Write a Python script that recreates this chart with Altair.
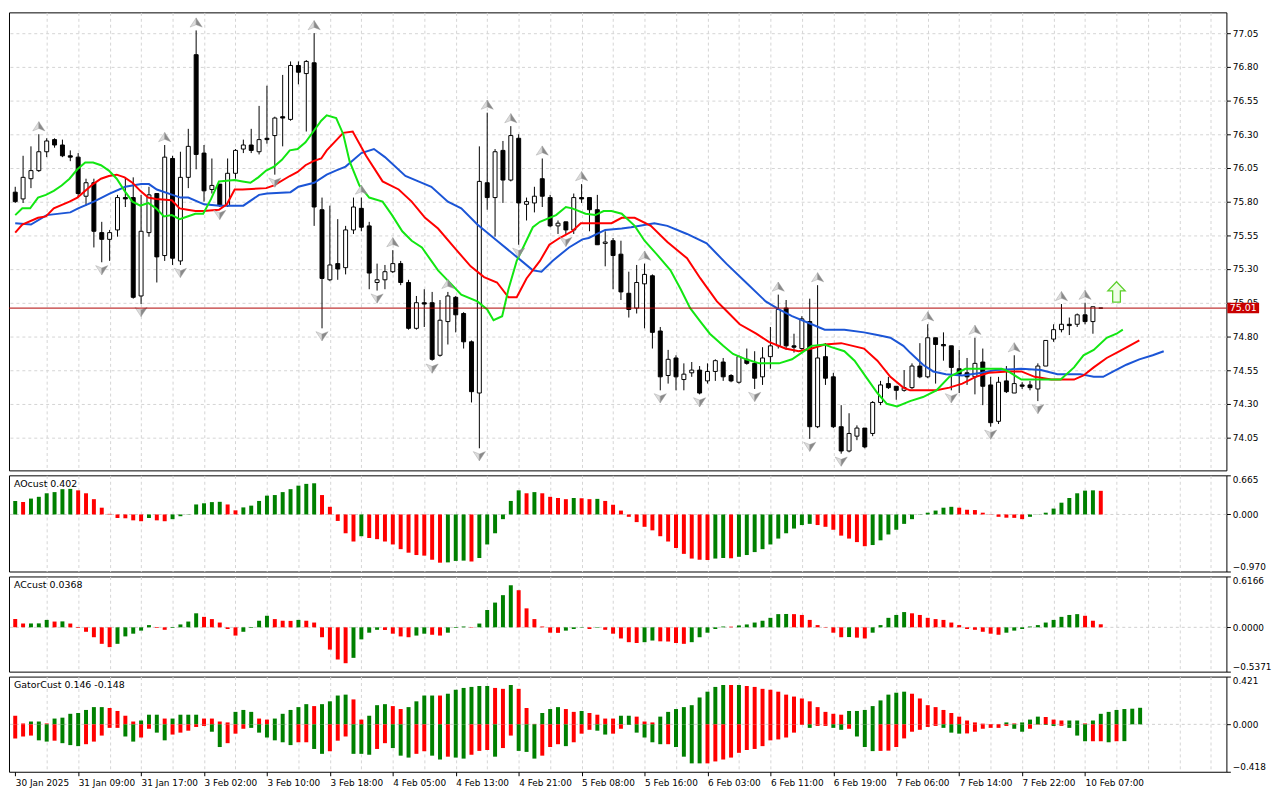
import altair as alt
import pandas as pd
import numpy as np

FONT = "DejaVu Sans"

# ---------------- data ----------------
opens = [75.87, 75.82, 75.97, 76.03, 76.17, 76.26, 76.22, 76.14, 76.13, 75.84,
         75.94, 75.57, 75.52, 75.59, 75.83, 75.83, 75.10, 75.57, 75.86, 75.40,
         76.12, 75.36, 75.98, 76.89, 76.16, 75.89, 75.93, 75.77, 76.01, 76.19,
         76.22, 76.17, 76.27, 76.29, 76.43, 76.41, 76.81, 76.75, 76.83, 75.74,
         75.22, 75.34, 75.31, 75.59, 75.75, 75.62, 75.20, 75.22, 75.28, 75.34,
         75.20, 74.86, 75.05, 75.05, 74.66, 74.91, 75.09, 74.97, 74.76, 74.38,
         75.94, 75.83, 76.18, 75.96, 76.27, 75.78, 75.79, 75.97, 75.83, 75.62,
         75.65, 75.59, 75.83, 75.83, 75.74, 75.49, 75.51, 75.41, 75.12, 75.01,
         75.19, 75.25, 74.84, 74.51, 74.64, 74.48, 74.53, 74.55, 74.47, 74.54,
         74.61, 74.51, 74.46, 74.63, 74.60, 74.50, 74.65, 74.73, 75.01, 74.73,
         74.71, 74.91, 74.13, 74.65, 74.50, 74.13, 73.95, 74.06, 74.12, 74.08,
         74.31, 74.45, 74.43, 74.40, 74.42, 74.58, 74.50, 74.79, 74.74, 74.73,
         74.56, 74.53, 74.50, 74.61, 74.44, 74.17, 74.47, 74.38, 74.44, 74.44,
         74.41, 74.58, 74.78, 74.85, 74.89, 74.89, 74.96, 74.91, 75.01]
highs = [75.91, 76.14, 76.21, 76.30, 76.27, 76.27, 76.26, 76.18, 76.16, 75.97,
         75.97, 75.65, 75.59, 75.85, 75.98, 75.98, 75.85, 75.91, 75.86, 76.22,
         76.14, 76.17, 76.34, 77.07, 76.22, 76.12, 75.93, 76.12, 76.19, 76.26,
         76.34, 76.51, 76.66, 76.43, 76.74, 76.84, 76.84, 76.85, 77.05, 75.83,
         75.77, 75.67, 75.62, 75.83, 75.83, 75.65, 75.34, 75.33, 75.44, 75.36,
         75.22, 75.10, 75.15, 75.13, 75.07, 75.13, 75.10, 74.98, 74.77, 76.21,
         76.46, 76.19, 76.25, 76.36, 76.30, 75.83, 75.91, 76.12, 75.85, 75.66,
         75.65, 75.86, 75.93, 75.83, 75.85, 75.58, 75.53, 75.51, 75.28, 75.33,
         75.34, 75.26, 74.87, 74.70, 74.66, 74.60, 74.61, 74.58, 74.60, 74.63,
         74.64, 74.52, 74.66, 74.71, 74.69, 74.72, 74.87, 75.11, 75.07, 74.82,
         74.95, 75.08, 75.18, 74.75, 74.53, 74.29, 74.23, 74.14, 74.12, 74.32,
         74.47, 74.50, 74.43, 74.55, 74.60, 74.75, 74.89, 74.79, 74.83, 74.73,
         74.70, 74.64, 74.79, 74.71, 74.50, 74.50, 74.58, 74.66, 74.46, 74.47,
         74.60, 74.77, 74.89, 75.04, 74.94, 74.97, 75.05, 75.02, 75.01]
lows = [75.79, 75.79, 75.90, 76.02, 76.13, 76.20, 76.13, 76.10, 75.83, 75.77,
        75.46, 75.35, 75.36, 75.54, 75.76, 75.08, 75.04, 75.54, 75.20, 75.36,
        75.33, 75.33, 75.90, 76.04, 75.80, 75.86, 75.76, 75.76, 75.97, 76.16,
        76.16, 76.15, 76.23, 76.00, 76.21, 76.40, 76.67, 76.32, 75.62, 74.86,
        75.21, 75.22, 75.26, 75.56, 75.58, 75.15, 75.14, 75.15, 75.27, 75.18,
        74.85, 74.85, 74.87, 74.62, 74.65, 74.74, 74.83, 74.71, 74.31, 73.97,
        75.74, 75.54, 75.79, 75.95, 75.48, 75.66, 75.72, 75.76, 75.61, 75.56,
        75.56, 75.56, 75.79, 75.58, 75.48, 75.32, 75.15, 75.07, 74.94, 74.97,
        74.86, 74.71, 74.40, 74.45, 74.40, 74.40, 74.50, 74.37, 74.45, 74.47,
        74.47, 74.46, 74.45, 74.59, 74.41, 74.44, 74.56, 74.71, 74.70, 74.68,
        74.70, 74.04, 74.12, 74.44, 74.12, 73.93, 73.94, 74.03, 73.97, 74.06,
        74.29, 74.41, 74.33, 74.39, 74.41, 74.49, 74.49, 74.45, 74.62, 74.40,
        74.38, 74.44, 74.37, 74.29, 74.13, 74.15, 74.38, 74.38, 74.41, 74.40,
        74.32, 74.58, 74.76, 74.83, 74.81, 74.87, 74.89, 74.82, 75.01]
closes = [75.80, 75.98, 76.03, 76.17, 76.25, 76.22, 76.14, 76.13, 75.86, 75.94,
          75.58, 75.52, 75.57, 75.83, 75.82, 75.09, 75.58, 75.85, 75.39, 76.13,
          75.38, 75.98, 76.21, 76.15, 75.88, 75.92, 75.77, 76.01, 76.18, 76.22,
          76.18, 76.26, 76.26, 76.42, 76.42, 76.81, 76.76, 76.84, 75.76, 75.23,
          75.33, 75.30, 75.59, 75.76, 75.61, 75.27, 75.22, 75.28, 75.34, 75.20,
          74.86, 75.05, 75.04, 74.63, 74.92, 75.10, 74.96, 74.76, 74.39, 75.95,
          75.83, 76.17, 75.96, 76.29, 75.79, 75.80, 75.84, 75.84, 75.62, 75.64,
          75.59, 75.83, 75.82, 75.74, 75.48, 75.50, 75.40, 75.13, 75.00, 75.20,
          75.26, 74.83, 74.50, 74.63, 74.50, 74.52, 74.55, 74.38, 74.54, 74.62,
          74.50, 74.47, 74.65, 74.60, 74.49, 74.64, 74.73, 75.00, 74.73, 74.72,
          74.93, 74.13, 74.64, 74.49, 74.13, 73.95, 74.08, 74.12, 73.98, 74.31,
          74.44, 74.42, 74.40, 74.42, 74.58, 74.50, 74.79, 74.74, 74.73, 74.57,
          74.52, 74.50, 74.60, 74.43, 74.16, 74.46, 74.39, 74.45, 74.43, 74.42,
          74.58, 74.77, 74.85, 74.89, 74.88, 74.96, 74.91, 75.02, 75.01]

fractal_up = [3, 19, 23, 38, 44, 48, 55, 60, 63, 67, 72, 80, 97, 102, 116, 122, 127, 133, 136]
fractal_down = [11, 16, 21, 26, 33, 39, 46, 53, 59, 64, 70, 82, 87, 94, 101, 105, 119, 124, 130]

jaw = [(0, 75.64), (2, 75.63), (4, 75.70), (7, 75.72), (8, 75.75), (10, 75.80), (12, 75.86),
       (14, 75.91), (16, 75.93), (17, 75.93), (18, 75.89), (20, 75.85), (21, 75.83), (22, 75.83),
       (24, 75.78), (26, 75.77), (29, 75.77), (31, 75.85), (32, 75.86), (35, 75.87), (36, 75.91),
       (38, 75.94), (39.6, 76.00), (40.75, 76.03), (42, 76.06), (44, 76.16), (45.6, 76.19),
       (47, 76.13), (49.6, 75.99), (51.25, 75.95), (52.9, 75.91), (55, 75.80), (56.7, 75.75),
       (58.75, 75.63), (61.25, 75.51), (63.75, 75.39), (65.8, 75.29), (66.9, 75.28), (68.3, 75.36),
       (70.4, 75.46), (72.1, 75.52), (72.9, 75.53), (75, 75.59), (77.1, 75.60), (78.3, 75.61),
       (81.25, 75.64), (82.9, 75.62), (85.4, 75.56), (87.9, 75.49), (90.4, 75.34), (92.9, 75.20),
       (95.4, 75.06), (97.1, 75.00), (98.75, 74.95), (101.25, 74.89), (102.9, 74.85), (105.4, 74.85),
       (107.9, 74.83), (109.6, 74.81), (111.25, 74.79), (112.9, 74.73), (113.75, 74.68),
       (115.4, 74.59), (116.7, 74.54), (118.3, 74.52), (120.4, 74.51), (122.9, 74.53),
       (124.6, 74.55), (127.9, 74.56), (130.4, 74.55), (132.5, 74.52), (135.4, 74.52),
       (137.1, 74.50), (138.3, 74.50), (139.6, 74.54), (141.25, 74.59), (142.9, 74.63),
       (144.6, 74.66), (146, 74.69)]
teeth = [(0, 75.57), (0.9, 75.63), (2.9, 75.68), (3.9, 75.69), (4.9, 75.75), (6.9, 75.80),
         (7.9, 75.83), (9.9, 75.93), (10.9, 75.97), (11.9, 75.99), (12.9, 76.00), (13.9, 75.98),
         (14.9, 75.94), (15.9, 75.88), (16.9, 75.83), (17.9, 75.82), (19.9, 75.81), (20.9, 75.75),
         (21.9, 75.74), (22.9, 75.73), (23.9, 75.73), (25.9, 75.74), (26.9, 75.78), (27.9, 75.89),
         (28.9, 75.89), (31.9, 75.90), (32.9, 75.92), (34.9, 75.99), (35.9, 76.02), (36.9, 76.07),
         (37.9, 76.10), (38.9, 76.12), (39.6, 76.18), (41.7, 76.31), (42.9, 76.32), (44.6, 76.14),
         (46.7, 75.95), (48.75, 75.89), (50.4, 75.80), (52.1, 75.68), (53.75, 75.60), (55.8, 75.46),
         (57.9, 75.32), (59.6, 75.24), (61.25, 75.20), (62.7, 75.09), (63.75, 75.09), (65, 75.23),
         (66.7, 75.36), (67.9, 75.48), (69.2, 75.53), (70.8, 75.58), (71.9, 75.64), (75.8, 75.64),
         (77.1, 75.68), (78.75, 75.68), (80.8, 75.62), (82.9, 75.50), (85.4, 75.38), (87.1, 75.23),
         (89.2, 75.06), (90.4, 74.99), (92.1, 74.89), (94.2, 74.82), (95.8, 74.76), (97.9, 74.71),
         (99.6, 74.69), (101.25, 74.71), (102.9, 74.74), (105, 74.75), (107.9, 74.71), (109.6, 74.62),
         (111.25, 74.50), (112.9, 74.42), (113.75, 74.40), (117.1, 74.40), (118.75, 74.42),
         (120.4, 74.45), (122.1, 74.50), (123.75, 74.53), (126.25, 74.54), (127.9, 74.54),
         (129.6, 74.50), (131.7, 74.48), (134.6, 74.48), (135.8, 74.51), (137.1, 74.57),
         (138.75, 74.64), (140.4, 74.69), (142.9, 74.77)]
lips = [(0, 75.70), (0.9, 75.75), (1.9, 75.75), (2.9, 75.83), (3.9, 75.85), (4.9, 75.88),
        (5.9, 75.92), (6.9, 75.97), (7.9, 76.04), (8.9, 76.09), (9.9, 76.09), (10.9, 76.07),
        (11.9, 76.03), (12.9, 75.97), (13.9, 75.88), (14.9, 75.80), (15.9, 75.77), (16.9, 75.79),
        (17.9, 75.75), (18.9, 75.69), (19.9, 75.70), (20.9, 75.67), (21.9, 75.69), (22.9, 75.71),
        (23.9, 75.71), (24.9, 75.82), (25.9, 75.95), (27.9, 75.96), (28.9, 75.95), (29.9, 75.94),
        (30.9, 75.98), (31.9, 76.03), (32.9, 76.06), (33.9, 76.11), (34.9, 76.18), (35.9, 76.19),
        (36.9, 76.24), (37.9, 76.32), (38.9, 76.40), (39.6, 76.44), (40.8, 76.42), (41.7, 76.30),
        (42.5, 76.10), (43.75, 75.92), (45, 75.83), (46.7, 75.80), (47.9, 75.70), (49.2, 75.58),
        (50.4, 75.51), (51.7, 75.46), (52.9, 75.36), (53.75, 75.29), (55.4, 75.19), (56.7, 75.11),
        (58.75, 75.06), (60, 75.00), (60.8, 74.92), (61.9, 74.95), (62.7, 75.15), (63.75, 75.36),
        (65.8, 75.61), (66.7, 75.65), (68.75, 75.70), (70, 75.76), (70.8, 75.75), (72.5, 75.71),
        (73.75, 75.70), (74.8, 75.73), (75.8, 75.73), (77.1, 75.71), (78.75, 75.62), (80, 75.51),
        (81.7, 75.40), (83.3, 75.29), (84.6, 75.15), (85.8, 75.01), (87.1, 74.91), (88.3, 74.82),
        (90, 74.73), (91.25, 74.67), (92.9, 74.63), (94.6, 74.60), (97.1, 74.60), (98.75, 74.63),
        (100, 74.68), (101.25, 74.73), (102.9, 74.74), (103.75, 74.72), (105.4, 74.69),
        (106.7, 74.62), (107.9, 74.52), (109.6, 74.38), (110.8, 74.30), (112.1, 74.28),
        (113.75, 74.32), (115.4, 74.35), (117.1, 74.40), (118.75, 74.50), (120.8, 74.56),
        (125.4, 74.56), (126.25, 74.54), (127.9, 74.48), (130.4, 74.48), (132.9, 74.48),
        (134.6, 74.57), (135.8, 74.66), (137.1, 74.70), (138.75, 74.79), (140, 74.82), (140.8, 74.85)]

ao = [0.23, 0.21, 0.27, 0.30, 0.36, 0.38, 0.43, 0.435, 0.41, 0.36,
      0.26, 0.115, 0.01, -0.06, -0.065, -0.10, -0.115, -0.06, -0.10, -0.115,
      -0.08, -0.03, 0.005, 0.17, 0.19, 0.21, 0.215, 0.17, 0.07, 0.12,
      0.15, 0.23, 0.32, 0.33, 0.38, 0.43, 0.49, 0.52, 0.53, 0.33,
      0.13, -0.11, -0.32, -0.46, -0.37, -0.40, -0.42, -0.46, -0.51, -0.59,
      -0.65, -0.69, -0.70, -0.77, -0.82, -0.815, -0.79, -0.785, -0.80, -0.74,
      -0.51, -0.32, -0.08, 0.23, 0.41, 0.36, 0.38, 0.36, 0.30, 0.28,
      0.26, 0.28, 0.275, 0.26, 0.265, 0.23, 0.165, 0.066, -0.04, -0.13,
      -0.21, -0.27, -0.37, -0.46, -0.57, -0.67, -0.75, -0.77, -0.775, -0.75,
      -0.74, -0.745, -0.72, -0.69, -0.64, -0.59, -0.51, -0.41, -0.32, -0.24,
      -0.18, -0.16, -0.18, -0.21, -0.26, -0.36, -0.41, -0.47, -0.54, -0.52,
      -0.44, -0.34, -0.26, -0.16, -0.08, -0.005, 0.03, 0.066, 0.115, 0.13,
      0.115, 0.08, 0.075, 0.03, -0.005, -0.04, -0.055, -0.058, -0.08, -0.04,
      0.003, 0.03, 0.10, 0.20, 0.28, 0.36, 0.405, 0.41, 0.402]
ac = [0.10, 0.046, 0.047, 0.048, 0.09, 0.07, 0.072, 0.046, -0.008, -0.054,
      -0.12, -0.20, -0.24, -0.20, -0.11, -0.077, -0.04, 0.027, -0.008, -0.03,
      -0.008, 0.035, 0.07, 0.17, 0.127, 0.10, 0.058, -0.02, -0.10, -0.054,
      -0.008, 0.08, 0.14, 0.10, 0.08, 0.078, 0.09, 0.08, 0.058, -0.12,
      -0.27, -0.39, -0.435, -0.37, -0.146, -0.065, -0.03, -0.032, -0.077, -0.11,
      -0.12, -0.10, -0.077, -0.09, -0.10, -0.065, -0.008, 0.01, -0.005, 0.046,
      0.21, 0.30, 0.39, 0.51, 0.45, 0.23, 0.10, 0.01, -0.065, -0.067,
      -0.04, -0.02, -0.005, -0.02, -0.006, -0.03, -0.077, -0.135, -0.18, -0.19,
      -0.18, -0.16, -0.17, -0.172, -0.19, -0.20, -0.18, -0.12, -0.065, -0.02,
      0.01, 0.008, 0.023, 0.035, 0.058, 0.08, 0.115, 0.16, 0.162, 0.16,
      0.15, 0.09, 0.027, -0.005, -0.065, -0.12, -0.118, -0.125, -0.135, -0.065,
      0.027, 0.115, 0.15, 0.185, 0.17, 0.15, 0.115, 0.10, 0.09, 0.058,
      0.027, -0.02, -0.03, -0.054, -0.077, -0.09, -0.065, -0.04, -0.02, 0.01,
      0.027, 0.058, 0.09, 0.127, 0.15, 0.16, 0.14, 0.08, 0.0368]
gator_up = [0.076, 0.008, 0.025, 0.025, 0.008, 0.051, 0.059, 0.093, 0.10, 0.127,
            0.152, 0.152, 0.144, 0.118, 0.076, 0.025, 0.034, 0.085, 0.085, 0.051,
            0.051, 0.085, 0.085, 0.085, 0.051, 0.051, 0.025, 0.017, 0.11, 0.127,
            0.11, 0.051, 0.042, 0.051, 0.093, 0.127, 0.152, 0.178, 0.161, 0.178,
            0.203, 0.254, 0.262, 0.22, 0.042, 0.076, 0.169, 0.178, 0.161, 0.135,
            0.152, 0.203, 0.254, 0.254, 0.254, 0.27, 0.305, 0.321, 0.33, 0.338,
            0.338, 0.321, 0.313, 0.347, 0.313, 0.144, 0.004, 0.10, 0.135, 0.152,
            0.135, 0.11, 0.118, 0.10, 0.085, 0.051, 0.051, 0.076, 0.076, 0.068,
            0.025, 0.017, 0.068, 0.11, 0.135, 0.152, 0.169, 0.237, 0.288, 0.33,
            0.347, 0.347, 0.347, 0.338, 0.33, 0.313, 0.305, 0.288, 0.262, 0.245,
            0.228, 0.203, 0.152, 0.11, 0.093, 0.085, 0.118, 0.118, 0.127, 0.161,
            0.211, 0.262, 0.279, 0.288, 0.27, 0.228, 0.169, 0.152, 0.127, 0.10,
            0.068, 0.034, 0.017, 0.006, 0.003, 0.002, 0.017, 0.008, 0.017, 0.042,
            0.068, 0.065, 0.042, 0.034, 0.034, 0.034, 0.008, 0.034, 0.093, 0.11,
            0.127, 0.135, 0.138, 0.146]
gator_up_col = ("rrggrggggg" "ggrrrrgggr" "ggggrrrrgg" "grrgggggrg" "gggrrgggrr"
                "ggggrggggg" "grrgrrrggg" "rrgrrrrggr" "rrgggggggg" "grgrrrrrrr"
                "rrrrrrgggg" "ggggrrrrrr" "rrrrrrgrgg" "grrrggrggg" "gggg")
gator_lo = [-0.124, -0.107, -0.099, -0.141, -0.152, -0.144, -0.166, -0.183, -0.192, -0.175,
            -0.152, -0.099, -0.031, -0.031, -0.107, -0.152, -0.116, -0.039, -0.073, -0.141,
            -0.09, -0.073, -0.056, -0.023, -0.014, -0.065, -0.20, -0.166, -0.082, -0.039,
            -0.031, -0.073, -0.116, -0.141, -0.158, -0.183, -0.158, -0.158, -0.217, -0.26,
            -0.237, -0.144, -0.107, -0.26, -0.26, -0.268, -0.217, -0.166, -0.209, -0.276,
            -0.293, -0.26, -0.237, -0.276, -0.31, -0.285, -0.293, -0.302, -0.268, -0.234,
            -0.226, -0.285, -0.209, -0.099, -0.234, -0.243, -0.302, -0.276, -0.20, -0.175,
            -0.192, -0.158, -0.082, -0.048, -0.056, -0.09, -0.082, -0.039, -0.006, -0.073,
            -0.116, -0.158, -0.175, -0.175, -0.20, -0.285, -0.344, -0.344, -0.344, -0.327,
            -0.31, -0.293, -0.251, -0.226, -0.217, -0.192, -0.141, -0.133, -0.116, -0.073,
            -0.005, -0.031, -0.014, -0.014, -0.031, -0.048, -0.039, -0.107, -0.20, -0.236,
            -0.234, -0.232, -0.20, -0.124, -0.065, -0.048, -0.023, -0.014, -0.031, -0.073,
            -0.082, -0.08, -0.065, -0.039, -0.031, -0.031, -0.014, -0.039, -0.065, -0.039,
            -0.003, -0.006, -0.014, -0.013, -0.031, -0.099, -0.149, -0.149, -0.149, -0.158,
            -0.149, -0.148]
gator_lo_col = ("rrrggrgggr" "rrrrggrrgg" "rrrrrggrrr" "ggggggrrgg" "rrrgggrrgg"
                "grrggrggrr" "rgrrgggrrr" "grrrggrrgg" "gggrggggrr" "rrrrrrrrrr"
                "rgrrggrggg" "rrrrrrrrgg" "grrrrrrggr" "rggrgggrrg" "rg")

signal_i = [140]
signal_p = [75.13]

date_labels = ["30 Jan 2025", "31 Jan 09:00", "31 Jan 17:00", "3 Feb 02:00", "3 Feb 10:00",
               "3 Feb 18:00", "4 Feb 05:00", "4 Feb 13:00", "4 Feb 21:00", "5 Feb 08:00",
               "5 Feb 16:00", "6 Feb 03:00", "6 Feb 11:00", "6 Feb 19:00", "7 Feb 06:00",
               "7 Feb 14:00", "7 Feb 22:00", "10 Feb 07:00"]
price_ticks = [74.05, 74.30, 74.55, 74.80, 75.05, 75.30, 75.55, 75.80, 76.05, 76.30, 76.55, 76.80, 77.05]
ao_range = [-0.970, 0.665]
ac_range = [-0.5371, 0.6166]
gator_range = [-0.418, 0.421]

# ---------------- layout ----------------
W = 1228
H_MAIN, H_AO, H_AC, H_G = 462, 97, 96, 96
XDOM = [-0.1625, -0.1625 + W / 8.0]
GREEN, RED = "#008000", "#ff0000"
GRID = "#d4d4d4"

xscale = alt.Scale(domain=XDOM, nice=False, zero=False)
grid_vals = list(range(4, int(XDOM[1]) + 1, 4))
x_grid_axis = alt.Axis(values=grid_vals, grid=True, gridDash=[3, 3], gridColor=GRID,
                       labels=False, ticks=False, domain=False, title=None)

label_arr = "[" + ",".join("'%s'" % s for s in date_labels) + "]"
last_lab = 8 * (len(date_labels) - 1)
x_bottom_axis = alt.Axis(
    values=list(range(0, int(XDOM[1]) + 1, 4)), grid=True, gridDash=[3, 3], gridColor=GRID,
    gridOpacity={"condition": {"test": "datum.value === 0", "value": 0}, "value": 1},
    labelExpr=label_arr + "[datum.value / 8] || ''",
    tickOpacity={"condition": {"test": "datum.value %% 8 === 0 && datum.value <= %d" % last_lab,
                               "value": 1}, "value": 0},
    labelAlign="left", labelPadding=3, labelOverlap=False, labelFlush=False,
    tickSize=4, domain=False, title=None)


def colors_from(values, first):
    out = [first]
    for a, b in zip(values[:-1], values[1:]):
        out.append("g" if b > a else ("r" if b < a else out[-1]))
    return out


# ---------------- main panel ----------------
n = len(closes)
cdf = pd.DataFrame({"i": range(n), "o": opens, "h": highs, "l": lows, "c": closes})
cdf["top"] = cdf[["o", "c"]].max(axis=1)
cdf["bot"] = cdf[["o", "c"]].min(axis=1)
cdf["fill"] = np.where(cdf["c"] >= cdf["o"], "white", "black")

yscale = alt.Scale(domain=[73.806, 77.204], nice=False, zero=False)
price_axis = alt.Axis(orient="right", values=price_ticks, format=".2f", grid=True,
                      gridDash=[3, 3], gridColor=GRID, tickSize=4, labelPadding=2,
                      domain=False, title=None)


def MX(field):
    return alt.X(field, scale=xscale, axis=x_grid_axis, title=None)


def MY(field):
    return alt.Y(field, scale=yscale, axis=price_axis, title=None)


base = alt.Chart(cdf)
wicks = base.mark_rule(color="black", strokeWidth=1, clip=True).encode(
    x=MX("i:Q"), y=MY("l:Q"), y2="h:Q")
bodies = base.mark_bar(size=4, stroke="black", strokeWidth=1, clip=True).encode(
    x=MX("i:Q"), y=MY("top:Q"), y2="bot:Q",
    color=alt.Color("fill:N", scale=None))


def line_layer(pairs, color):
    d = pd.DataFrame(pairs, columns=["i", "v"])
    return alt.Chart(d).mark_line(color=color, strokeWidth=2).encode(
        x=MX("i:Q"), y=MY("v:Q"))


# fractal arrowheads drawn as a light and a dark half (MetaTrader look)
UP_L = "M0,-0.62L-0.82,0.62L0,0.3Z"
UP_R = "M0,-0.62L0,0.3L0.82,0.62Z"
DN_L = "M0,0.62L-0.82,-0.62L0,-0.3Z"
DN_R = "M0,0.62L0,-0.3L0.82,-0.62Z"


def frac_layer(idx, field, shape, fill, off):
    return alt.Chart(cdf.loc[idx]).mark_point(
        shape=shape, size=225, filled=True, fill=fill, stroke="#9a9a9a",
        strokeWidth=0.4, opacity=1, yOffset=off).encode(x=MX("i:Q"), y=MY(field))


fr_layers = [frac_layer(fractal_up, "h:Q", UP_L, "#dcdcdc", -8),
             frac_layer(fractal_up, "h:Q", UP_R, "#8a8a8a", -8),
             frac_layer(fractal_down, "l:Q", DN_L, "#dcdcdc", 8),
             frac_layer(fractal_down, "l:Q", DN_R, "#8a8a8a", 8)]

BLOCK_UP = "M0,-1L0.85,-0.1L0.38,-0.1L0.38,1L-0.38,1L-0.38,-0.1L-0.85,-0.1Z"
sig = alt.Chart(pd.DataFrame({"i": signal_i, "p": signal_p})).mark_point(
    shape=BLOCK_UP, size=420, filled=True, fill="#effde6", stroke="#5ccf2c",
    strokeWidth=1.3, opacity=1).encode(x=MX("i:Q"), y=MY("p:Q"))

last_df = pd.DataFrame({"p": [closes[-1]], "lbl": ["%.2f" % closes[-1]]})
price_line = alt.Chart(last_df).mark_rule(color="#b00000", strokeWidth=1).encode(y=MY("p:Q"))
RECT = "M-1,-0.33L1,-0.33L1,0.33L-1,0.33Z"
price_box = alt.Chart(last_df).mark_point(
    shape=RECT, size=1024, filled=True, color="#c80000", opacity=1).encode(
    x=alt.value(W + 17), y=MY("p:Q"))
price_txt = alt.Chart(last_df).mark_text(
    color="white", font=FONT, fontSize=9.5, align="center", baseline="middle").encode(
    x=alt.value(W + 17), y=MY("p:Q"), text="lbl:N")

main = alt.layer(
    wicks, bodies,
    line_layer(jaw, "#1b55d6"), line_layer(teeth, "#ff0000"), line_layer(lips, "#12e612"),
    *fr_layers, sig, price_line, price_box, price_txt
).properties(width=W, height=H_MAIN)


# ---------------- indicator panels ----------------
def ind_axis(rng, fmt):
    return alt.Axis(orient="right", values=[rng[0], 0, rng[1]], format=fmt, grid=False,
                    tickSize=4, labelPadding=2, labelFlush=True, domain=False, title=None)


def hist_panel(series, rng, fmt, label, height, xaxis):
    ys = alt.Scale(domain=rng, nice=False, zero=False)
    yaxis = ind_axis(rng, fmt)
    zero = alt.Chart(pd.DataFrame({"z": [0]})).mark_rule(
        color="#cfcfcf", strokeDash=[3, 3]).encode(
        y=alt.Y("z:Q", scale=ys, axis=yaxis, title=None))
    layers = [zero]
    for values, cols in series:
        d = pd.DataFrame({"i": range(len(values)), "v": values,
                          "col": [GREEN if c == "g" else RED for c in cols]})
        layers.append(alt.Chart(d).mark_bar(size=4).encode(
            x=alt.X("i:Q", scale=xscale, axis=xaxis, title=None),
            y=alt.Y("v:Q", scale=ys, axis=yaxis, title=None),
            y2=alt.datum(0),
            color=alt.Color("col:N", scale=None)))
    layers.append(alt.Chart(pd.DataFrame({"t": [label]})).mark_text(
        align="left", baseline="top", font=FONT, fontSize=9.5, color="black").encode(
        x=alt.value(5), y=alt.value(4), text="t:N"))
    return alt.layer(*layers).properties(width=W, height=height)


ao_panel = hist_panel([(ao, colors_from(ao, "g"))], ao_range, ".3f",
                      "AOcust %.3f" % ao[-1], H_AO, x_grid_axis)
ac_panel = hist_panel([(ac, colors_from(ac, "r"))], ac_range, ".4f",
                      "ACcust %.4f" % ac[-1], H_AC, x_grid_axis)
g_panel = hist_panel([(gator_up, gator_up_col), (gator_lo, gator_lo_col)], gator_range, ".3f",
                     "GatorCust %.3f %.3f" % (gator_up[-1], gator_lo[-1]), H_G, x_bottom_axis)

chart = alt.vconcat(main, ao_panel, ac_panel, g_panel, spacing=3).properties(
    padding=0, background="white"
).configure_view(stroke="black", strokeWidth=1).configure_axis(
    labelFont=FONT, labelFontSize=9, labelColor="black", tickColor="black", tickWidth=1)

chart.save("out.html", embed_options={"renderer": "svg", "actions": False})
